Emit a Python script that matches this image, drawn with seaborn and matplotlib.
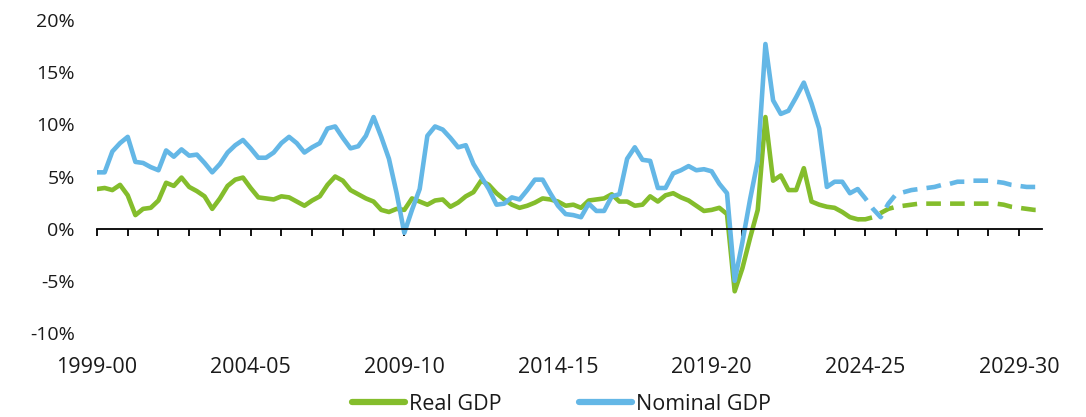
import numpy as np
import matplotlib
matplotlib.use('Agg')
import matplotlib.pyplot as plt
from matplotlib.lines import Line2D
from matplotlib.ticker import MultipleLocator, FuncFormatter
import seaborn as sns

# year-ended growth (%), quarterly, starting 1999-00 Q1
real_actual = [3.8, 3.9, 3.7, 4.2, 3.2, 1.3, 1.9, 2.0, 2.7, 4.4,
               4.1, 4.9, 4.0, 3.6, 3.1, 1.9, 2.9, 4.1, 4.7, 4.9,
               3.9, 3.0, 2.9, 2.8, 3.1, 3.0, 2.6, 2.2, 2.7, 3.1,
               4.2, 5.0, 4.6, 3.7, 3.3, 2.9, 2.6, 1.8, 1.6, 1.9,
               1.8, 2.9, 2.6, 2.3, 2.7, 2.8, 2.1, 2.5, 3.1, 3.5,
               4.6, 4.2, 3.4, 2.8, 2.3, 2.0, 2.2, 2.5, 2.9, 2.8,
               2.6, 2.2, 2.3, 2.0, 2.7, 2.8, 2.9, 3.3, 2.6, 2.6,
               2.2, 2.3, 3.1, 2.6, 3.2, 3.4, 3.0, 2.7, 2.2, 1.7,
               1.8, 2.0, 1.4, -6.0, -3.8, -0.9, 1.8, 10.7, 4.6, 5.1,
               3.7, 3.7, 5.8, 2.6, 2.3, 2.1, 2.0, 1.6, 1.1, 0.9]
nominal_actual = [5.4, 5.4, 7.4, 8.2, 8.8, 6.4, 6.3, 5.9, 5.6, 7.5,
                  6.9, 7.6, 7.0, 7.1, 6.3, 5.4, 6.2, 7.3, 8.0, 8.5,
                  7.7, 6.8, 6.8, 7.3, 8.2, 8.8, 8.2, 7.3, 7.8, 8.2,
                  9.6, 9.8, 8.7, 7.7, 7.9, 8.9, 10.7, 8.8, 6.7, 3.4,
                  -0.4, 1.8, 3.8, 8.9, 9.8, 9.5, 8.7, 7.8, 8.0, 6.2,
                  5.0, 3.8, 2.3, 2.4, 3.0, 2.8, 3.7, 4.7, 4.7, 3.4,
                  2.2, 1.4, 1.3, 1.1, 2.4, 1.7, 1.7, 3.1, 3.3, 6.7,
                  7.8, 6.6, 6.5, 3.9, 3.9, 5.3, 5.6, 6.0, 5.6, 5.7,
                  5.5, 4.3, 3.4, -5.0, -1.3, 2.8, 6.5, 17.7, 12.3, 11.0,
                  11.3, 12.6, 14.0, 12.0, 9.6, 4.0, 4.5, 4.5, 3.4, 3.8]
# forecasts start from the last actual quarter (2023-24 Q4)
real_forecast = [0.9, 0.9, 1.1, 1.5, 1.9, 2.1, 2.2, 2.3, 2.4, 2.4,
                 2.4, 2.4, 2.4, 2.4, 2.4, 2.4, 2.4, 2.4, 2.4,
                 2.3, 2.1, 2.0, 1.9, 1.8, 1.8]
nominal_forecast = [3.8, 2.9, 1.9, 1.1, 2.4, 3.3, 3.5, 3.7, 3.8, 3.9,
                    4.0, 4.2, 4.3, 4.5, 4.5, 4.6, 4.6, 4.6, 4.5,
                    4.4, 4.2, 4.1, 4.0, 4.0, 4.0]
year_labels = ['1999-00', '2004-05', '2009-10', '2014-15', '2019-20', '2024-25', '2029-30']
series_names = ['Real GDP', 'Nominal GDP']
colors = ['#84BD2C', '#64B7E6']

q_actual = np.arange(len(real_actual))
q_forecast = np.arange(len(real_forecast)) + len(real_actual) - 1

sns.set_style('white')
plt.rcParams['font.family'] = ['Open Sans', 'DejaVu Sans']
txt = '#1a1a1a'

fig = plt.figure(figsize=(10.86, 4.17), dpi=100)
ax = fig.add_axes([0.0893, 0.2014, 0.8702, 0.7506])

lw = 3.3
sns.lineplot(x=q_actual, y=real_actual, color=colors[0], lw=lw, ax=ax)
sns.lineplot(x=q_forecast, y=real_forecast, color=colors[0], lw=lw,
             linestyle=(0, (3.2, 2.0)), ax=ax)
sns.lineplot(x=q_actual, y=nominal_actual, color=colors[1], lw=lw, ax=ax)
sns.lineplot(x=q_forecast, y=nominal_forecast, color=colors[1], lw=lw,
             linestyle=(0, (3.2, 2.0)), ax=ax)

ax.set_xlim(0, len(q_actual) + len(q_forecast) - 2)
ax.set_ylim(-10, 20)
ax.yaxis.set_major_locator(MultipleLocator(5))
ax.yaxis.set_major_formatter(FuncFormatter(lambda v, p: f'{v:.0f}%'))
ax.tick_params(axis='y', length=0, pad=16, labelsize=14, labelcolor=txt)

for s in ['left', 'right', 'top']:
    ax.spines[s].set_visible(False)
ax.spines['bottom'].set_position(('data', 0))
ax.spines['bottom'].set_color('black')
ax.spines['bottom'].set_linewidth(1.3)
ax.xaxis.set_major_locator(MultipleLocator(4))
ax.tick_params(axis='x', direction='out', length=5, width=1.3, color='black',
               labelbottom=False, bottom=True)
ax.set_xlabel('')
ax.set_ylabel('')

# year labels sit below the plot, not on the zero line
sec = ax.secondary_xaxis('bottom')
sec.set_xticks(np.arange(len(year_labels)) * 20, labels=year_labels)
sec.tick_params(length=0, pad=17, labelsize=15.5, labelcolor=txt)
sec.spines['bottom'].set_visible(False)

handles = [Line2D([], [], color=c, lw=4.5) for c in colors]
fig.legend(handles, series_names, loc='center', bbox_to_anchor=(561 / 1086, 1 - 404 / 417),
           ncol=2, frameon=False, handlelength=2.5, handletextpad=0.15,
           columnspacing=3.6, fontsize=15.5, labelcolor=txt)

fig.savefig('out.png', dpi=100)
